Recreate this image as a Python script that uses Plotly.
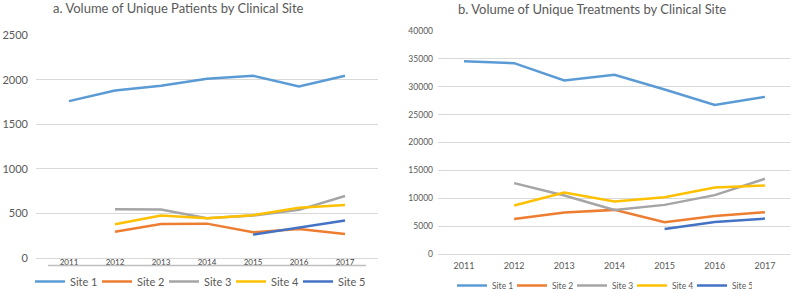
import plotly.graph_objects as go

years = [2011, 2012, 2013, 2014, 2015, 2016, 2017]
site_names = ["Site 1", "Site 2", "Site 3", "Site 4", "Site 5"]
colors = ["#5B9BD5", "#ED7D31", "#A5A5A5", "#FFC000", "#4472C4"]

# a. Unique patients
patients_site1 = [1760, 1879, 1932, 2010, 2044, 1924, 2044]
patients_site2 = [None, 298, 385, 388, 291, 328, 272]
patients_site3 = [None, 549, 545, 448, 478, 542, 698]
patients_site4 = [None, 381, 478, 448, 482, 567, 598]
patients_site5 = [None, None, None, None, 265, 343, 422]

# b. Unique treatments
treat_site1 = [34586, 34227, 31115, 32140, 29496, 26745, 28183]
treat_site2 = [None, 6295, 7428, 7914, 5701, 6835, 7500]
treat_site3 = [None, 12716, 10486, 7914, 8813, 10557, 13489]
treat_site4 = [None, 8687, 11025, 9407, 10198, 11924, 12284]
treat_site5 = [None, None, None, None, 4496, 5755, 6349]

patients = [patients_site1, patients_site2, patients_site3, patients_site4, patients_site5]
treatments = [treat_site1, treat_site2, treat_site3, treat_site4, treat_site5]

left_yticks = [0, 500, 1000, 1500, 2000, 2500]
right_yticks = [0, 5000, 10000, 15000, 20000, 25000, 30000, 35000, 40000]

W, H = 791, 290
FONT = "Lato, 'Open Sans', sans-serif"
TXT = "#595959"
GRID = "#D9D9D9"

def fx(px):
    return px / W

def fy(py):
    return (H - py) / H

fig = go.Figure()

for name, vals, col in zip(site_names, patients, colors):
    fig.add_trace(go.Scatter(x=years, y=vals, name=name, mode="lines",
                             line=dict(color=col, width=2.5),
                             xaxis="x", yaxis="y", legend="legend",
                             connectgaps=False))

for name, vals, col in zip(site_names, treatments, colors):
    fig.add_trace(go.Scatter(x=years, y=vals, name=name, mode="lines",
                             line=dict(color=col, width=2.5),
                             xaxis="x2", yaxis="y2", legend="legend2",
                             connectgaps=False))

fig.update_layout(
    width=W, height=H,
    margin=dict(l=0, r=0, t=0, b=0, autoexpand=False),
    paper_bgcolor="white", plot_bgcolor="white",
    font=dict(family=FONT, color=TXT),
    xaxis=dict(domain=[fx(36), fx(378)], range=[2010.283, 2017.717],
               tickvals=years, ticktext=[str(y) for y in years],
               showgrid=False, zeroline=False, showline=False,
               tickfont=dict(size=8, color="#404040"), ticks="",
               ticklabelstandoff=-2,
               anchor="y", fixedrange=True),
    yaxis=dict(domain=[fy(258.3), fy(35)], range=[0, 2500],
               tickvals=left_yticks, ticktext=[str(v) for v in left_yticks],
               showgrid=True, gridcolor=GRID, gridwidth=1,
               zeroline=True, zerolinecolor=GRID, zerolinewidth=1,
               showline=False, ticks="", tickfont=dict(size=11, color=TXT),
               ticklabelstandoff=7,
               anchor="x"),
    xaxis2=dict(domain=[fx(438), fx(790)], range=[2010.482, 2017.5],
                tickvals=years, ticktext=[str(y) for y in years],
                showgrid=False, zeroline=False, showline=False,
                tickfont=dict(size=9, color=TXT), ticks="outside", ticklen=3,
                tickcolor="rgba(0,0,0,0)",
                anchor="y2"),
    yaxis2=dict(domain=[fy(254), fy(31)], range=[0, 40000],
                tickvals=right_yticks, ticktext=[str(v) for v in right_yticks],
                showgrid=True, gridcolor=GRID, gridwidth=1,
                zeroline=True, zerolinecolor=GRID, zerolinewidth=1,
                showline=False, ticks="", tickfont=dict(size=8.5, color=TXT),
                ticklabelstandoff=4,
                anchor="x2"),
    legend=dict(orientation="h", x=fx(30), y=fy(281.5), xanchor="left", yanchor="middle",
                font=dict(size=11, color=TXT), entrywidth=22, entrywidthmode="pixels",
                itemwidth=30, bgcolor="rgba(0,0,0,0)", tracegroupgap=0),
    legend2=dict(orientation="h", x=fx(452), y=fy(285.5), xanchor="left", yanchor="middle",
                 font=dict(size=8.5, color=TXT), entrywidth=15, entrywidthmode="pixels",
                 itemwidth=30, bgcolor="rgba(0,0,0,0)", tracegroupgap=0),
    showlegend=True,
    annotations=[
        dict(text="a. Volume of Unique Patients by Clinical Site", x=fx(178), y=fy(8),
             xref="paper", yref="paper", xanchor="center", yanchor="middle",
             showarrow=False, font=dict(size=13, color=TXT, family=FONT)),
        dict(text="b. Volume of Unique Treatments by Clinical Site", x=fx(592), y=fy(9),
             xref="paper", yref="paper", xanchor="center", yanchor="middle",
             showarrow=False, font=dict(size=13, color=TXT, family=FONT)),
    ],
    shapes=[
        dict(type="line", xref="paper", yref="paper", x0=fx(48), x1=fx(366),
             y0=fy(265.5), y1=fy(265.5), line=dict(color="#BFBFBF", width=1.5)),
    ],
)

fig.write_html("out.html", config={"displayModeBar": False},
               post_script="document.body.style.margin='0px';document.body.style.overflow='hidden';")
